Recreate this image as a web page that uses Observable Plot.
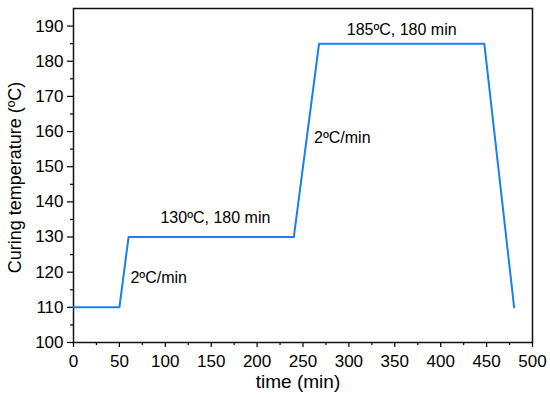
<!DOCTYPE html>
<html>
<head>
<meta charset="utf-8">
<script src="https://cdn.jsdelivr.net/npm/d3@7"></script>
<script src="https://cdn.jsdelivr.net/npm/@observablehq/plot@0.6"></script>
<style>
  html, body { margin: 0; padding: 0; background: #fff; }
  #chart { width: 550px; height: 397px; }
</style>
</head>
<body>
<div id="chart"></div>
<script>
// Curing profile (time in min, temperature in ºC)
const timeMin = [0, 50, 60, 240, 267.5, 447.5, 480];
const tempC = [110, 110, 130, 130, 185, 185, 110];

const xTicks = [0, 50, 100, 150, 200, 250, 300, 350, 400, 450, 500];
const xMinorTicks = [25, 75, 125, 175, 225, 275, 325, 375, 425, 475];
const yTicks = [100, 110, 120, 130, 140, 150, 160, 170, 180, 190];
const yMinorTicks = [105, 115, 125, 135, 145, 155, 165, 175, 185];

const noteText = ["185ºC, 180 min", "130ºC, 180 min", "2ºC/min", "2ºC/min"];
const noteTime = [357.5, 154.6, 62, 262];
const noteTemp = [188.8, 135.5, 118.5, 158.3];
const noteAnchor = ["middle", "middle", "start", "start"];

const xLabel = "time (min)";
const yLabel = "Curing temperature (ºC)";

const profile = timeMin.map((t, i) => ({t, T: tempC[i]}));
const notes = noteText.map((s, i) => ({s, t: noteTime[i], T: noteTemp[i], a: noteAnchor[i]}));

const font = "'Liberation Sans', Arial, sans-serif";

const chart = Plot.plot({
  width: 550,
  height: 397,
  marginLeft: 73,
  marginRight: 18,
  marginTop: 8,
  marginBottom: 55,
  style: {fontFamily: font, background: "#fff", color: "#000"},
  x: {domain: [0, 500]},
  y: {domain: [100, 195]},
  marks: [
    Plot.axisX(xTicks, {tickSize: 5, tickPadding: 7, fontSize: 17, label: null, strokeWidth: 1.2}),
    Plot.axisX(xMinorTicks, {tickSize: 3, tickFormat: () => "", label: null, strokeWidth: 1.2}),
    Plot.axisY(yTicks, {tickSize: 6, tickPadding: 4, fontSize: 17, label: null, strokeWidth: 1.2}),
    Plot.axisY(yMinorTicks, {tickSize: 3, tickFormat: () => "", label: null, strokeWidth: 1.2}),
    Plot.frame({stroke: "#111", strokeWidth: 1.5}),
    Plot.line(profile, {x: "t", y: "T", stroke: "#1a7ff0", strokeWidth: 2}),
    Plot.text(notes.filter(d => d.a === "middle"), {x: "t", y: "T", text: "s", fontSize: 16, fill: "#000", textAnchor: "middle"}),
    Plot.text(notes.filter(d => d.a === "start"), {x: "t", y: "T", text: "s", fontSize: 16, fill: "#000", textAnchor: "start"}),
    Plot.text([xLabel], {frameAnchor: "bottom", textAnchor: "middle", dy: 45, dx: -5, fontSize: 19, fill: "#000"}),
    Plot.text([yLabel], {frameAnchor: "left", textAnchor: "middle", dx: -58, dy: 2, rotate: -90, fontSize: 18, fill: "#000"})
  ]
});

document.getElementById("chart").appendChild(chart);
</script>
</body>
</html>
